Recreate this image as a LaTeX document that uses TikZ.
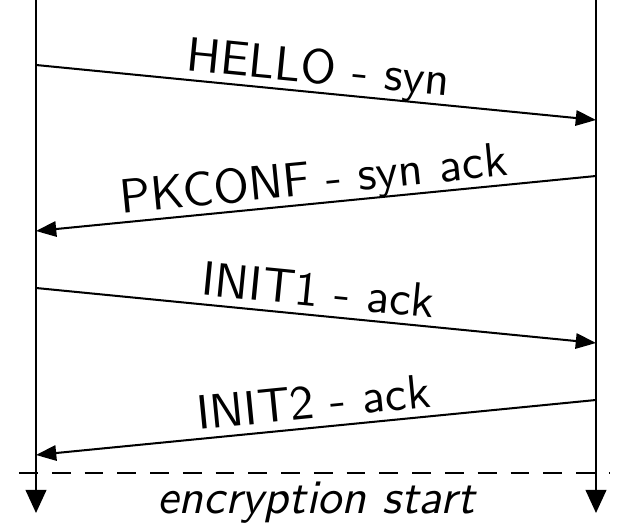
\documentclass[tikz,border=0pt]{standalone}
\usepackage{tikz}
\usetikzlibrary{arrows.meta}

\begin{document}
\begin{tikzpicture}[
  x=0.0073cm, y=-0.0073cm,
  lifeline/.style={-{Triangle[length=4.8pt,width=4.3pt]}, line width=0.42pt},
  msg/.style={-{Triangle[length=4.2pt,width=3.2pt]}, line width=0.42pt},
  msglabel/.style={midway, sloped, above, inner sep=0pt, outer sep=1.9pt,
                   text depth=0pt, font=\sffamily},
]
  \useasboundingbox (0,0) rectangle (618,528);
  \coordinate (Atop) at (36,0);
  \coordinate (Abot) at (36,513);
  \coordinate (Btop) at (596,0);
  \coordinate (Bbot) at (596,513);
  \draw[lifeline] (Atop)--(Abot);
  \draw[lifeline] (Btop)--(Bbot);
  % handshake
  \coordinate (A1) at (36,65);   \coordinate (B1) at (596,120);
  \coordinate (B2) at (596,176); \coordinate (A2) at (36,231);
  \coordinate (A3) at (36,288);  \coordinate (B3) at (596,343);
  \coordinate (B4) at (596,400); \coordinate (A4) at (36,455);
  \draw[msg] (A1)-- node[msglabel] (hello) {HELLO - syn} (B1);
  \draw[msg] (B2)-- node[msglabel] (pkconf) {PKCONF - syn ack} (A2);
  \draw[msg] (A3)-- node[msglabel] (init1) {INIT1 - ack} (B3);
  \draw[msg] (B4)-- node[msglabel] (init2) {INIT2 - ack} (A4);
  % encryption
  \coordinate (DL) at (19,473);
  \coordinate (DR) at (610,473);
  \draw[dash pattern=on 3.9pt off 2.9pt, line width=0.42pt] (DL)--(DR);
  \node[anchor=base, font=\sffamily\itshape] (enc) at (316,514) {encryption start};
\end{tikzpicture}
\end{document}
